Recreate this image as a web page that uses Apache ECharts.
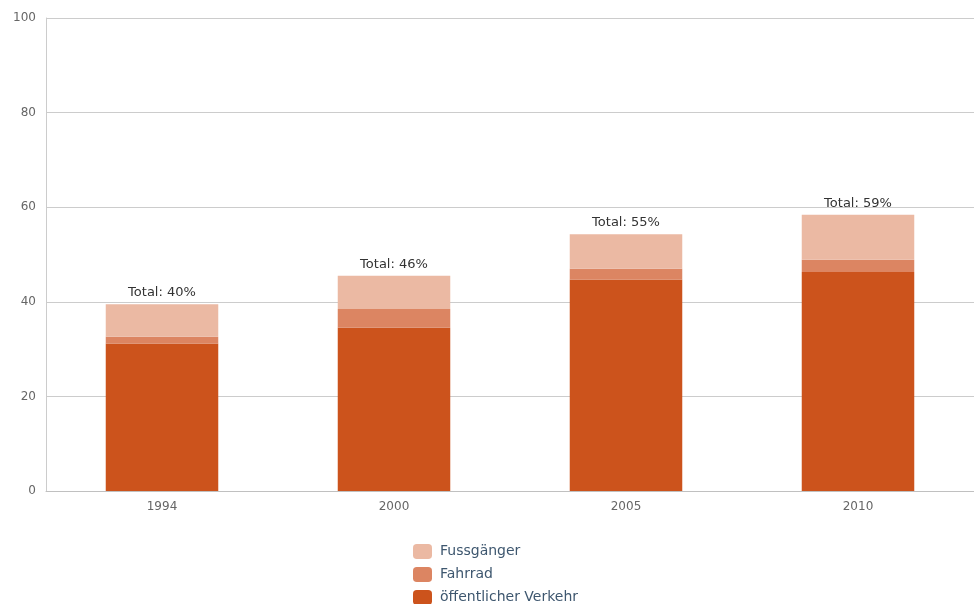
<!DOCTYPE html>
<html>
<head>
<meta charset="utf-8">
<script src="https://cdn.jsdelivr.net/npm/echarts@6/dist/echarts.min.js"></script>
<style>
  html, body { margin: 0; padding: 0; background: #fff; }
  #chart-container { width: 974px; height: 604px; }
</style>
</head>
<body>
<div id="chart-container"></div>
<script>
// data
const years = ['1994', '2000', '2005', '2010'];
const oeffentlicherVerkehr = [31.2, 34.5, 44.7, 46.3];
const fahrrad = [1.4, 4.0, 2.3, 2.6];
const fussgaenger = [6.9, 7.0, 7.3, 9.5];
const totalLabels = [40, 46, 55, 59];
const yTicks = [0, 20, 40, 60, 80, 100];

const chart = echarts.init(document.getElementById('chart-container'));

const options = {
  animation: false,
  textStyle: { fontFamily: 'DejaVu Sans' },
  grid: { left: 46, right: 0, top: 18, bottom: 113 },
  legend: {
    orient: 'vertical',
    left: 408,
    top: 539,
    height: 120,
    itemWidth: 19,
    itemHeight: 15,
    itemGap: 8,
    textStyle: { color: '#3e576f', fontSize: 14, padding: [0, 0, 0, 3] },
    data: ['Fussgänger', 'Fahrrad', 'öffentlicher Verkehr']
  },
  xAxis: {
    type: 'category',
    data: years,
    axisLine: { lineStyle: { color: '#c0c0c0' } },
    axisTick: { length: 5, lineStyle: { color: '#c0d0e0' } },
    axisLabel: { color: '#666', fontSize: 12, margin: 10 }
  },
  yAxis: {
    type: 'value',
    min: yTicks[0],
    max: yTicks[yTicks.length - 1],
    interval: 20,
    axisLine: { show: true, lineStyle: { color: '#ccc' } },
    splitLine: { lineStyle: { color: '#ccc' } },
    axisLabel: { color: '#666', fontSize: 12, margin: 10 }
  },
  series: [
    {
      name: 'öffentlicher Verkehr',
      type: 'bar',
      stack: 'total',
      barWidth: '48.5%',
      data: oeffentlicherVerkehr,
      itemStyle: { color: '#cc531c' }
    },
    {
      name: 'Fahrrad',
      type: 'bar',
      stack: 'total',
      data: fahrrad,
      itemStyle: { color: '#dc8562' }
    },
    {
      name: 'Fussgänger',
      type: 'bar',
      stack: 'total',
      data: fussgaenger,
      itemStyle: { color: '#ebb9a3' },
      label: {
        show: true,
        position: 'top',
        distance: 5,
        color: '#333',
        fontSize: 13,
        formatter: p => 'Total: ' + totalLabels[p.dataIndex] + '%'
      }
    }
  ]
};

chart.setOption(options);
</script>
</body>
</html>
